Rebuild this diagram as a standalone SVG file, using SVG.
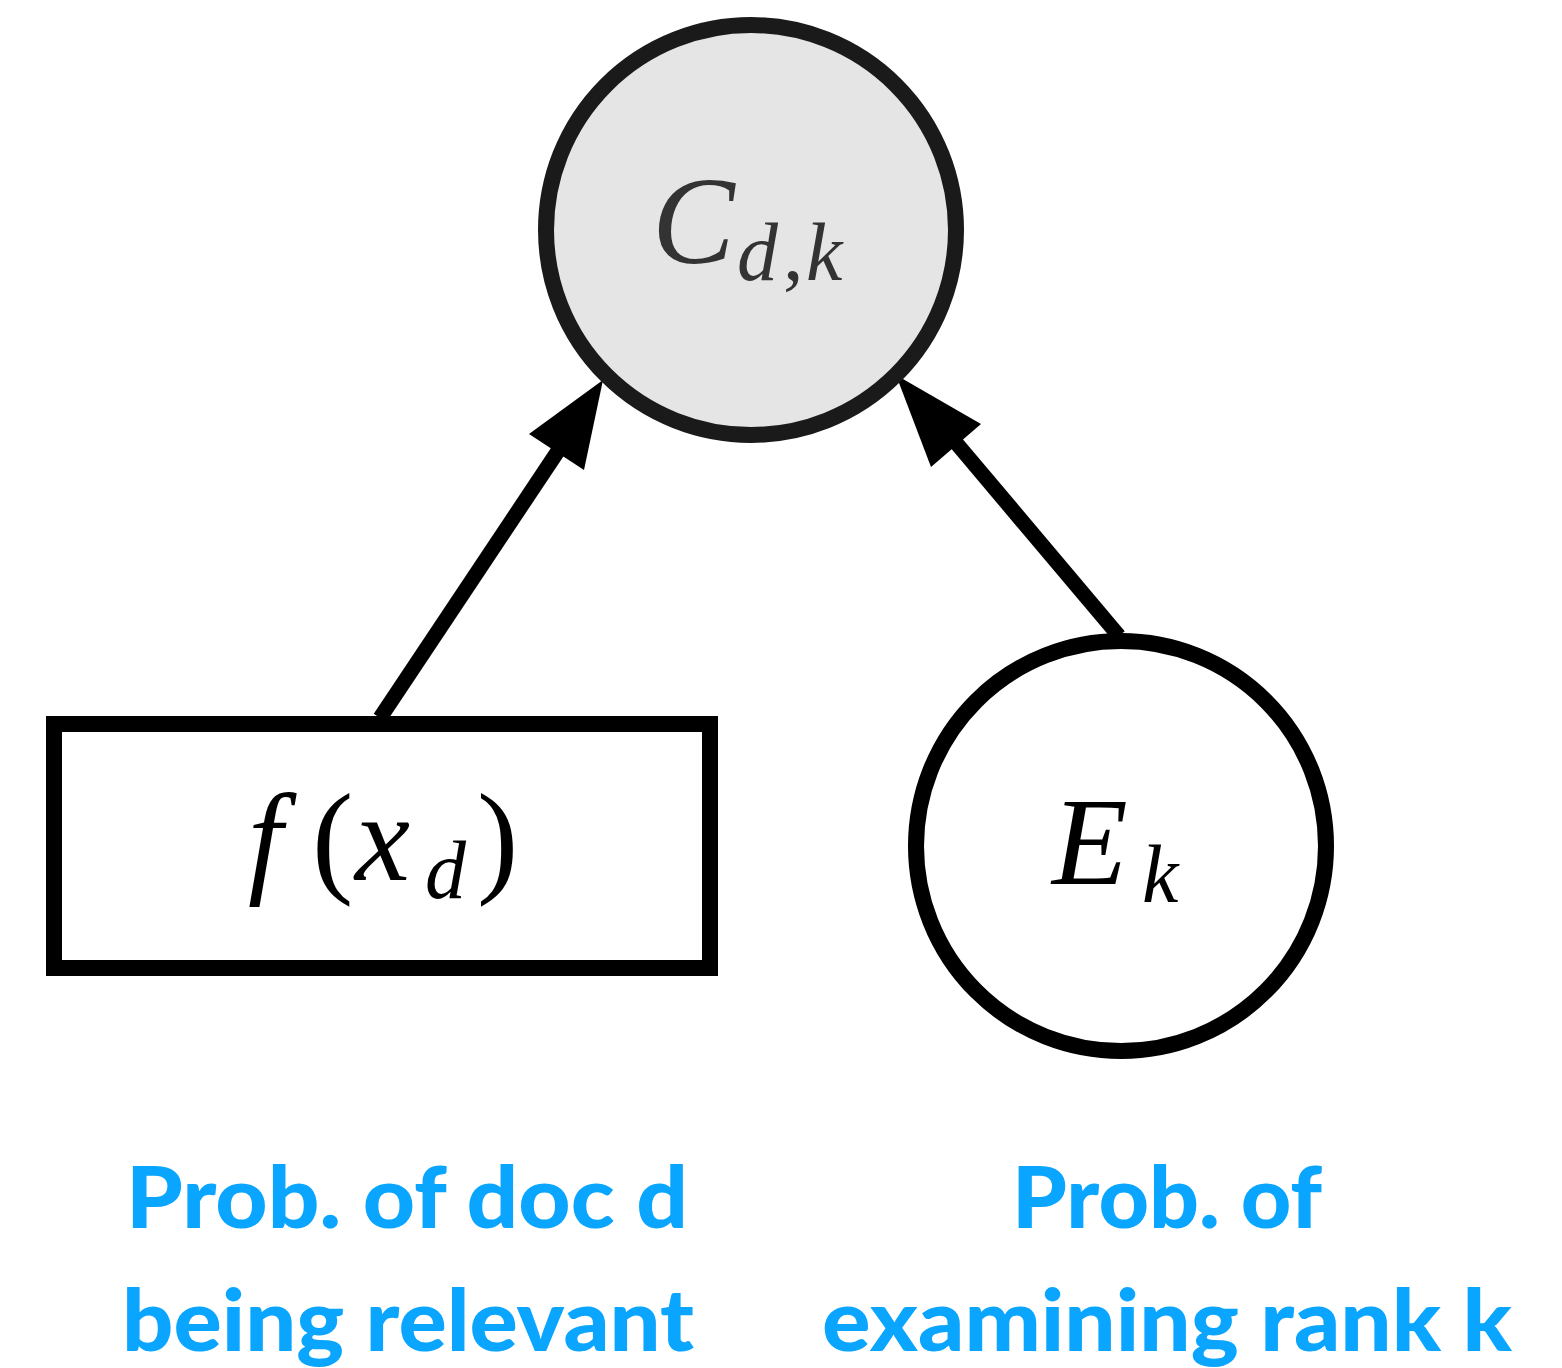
<svg xmlns="http://www.w3.org/2000/svg" width="1562" height="1368" viewBox="0 0 1562 1368">
<style>
.math{font-family:"Liberation Serif","DejaVu Serif",serif;font-style:italic}
.lbl{font-family:Lato,"Noto Sans",sans-serif;font-weight:900;font-size:86px;fill:#0aa5ff;text-anchor:middle}
.edge{stroke:#000;stroke-width:15;fill:none}
</style>
<rect width="1562" height="1368" fill="#fff"/>
<g id="connectors">
<line class="edge" x1="380" y1="718" x2="560" y2="448"/>
<polygon points="603,380 529,434 584,470" fill="#000"/>
<line class="edge" x1="1119" y1="636" x2="952" y2="438"/>
<polygon points="896,375 981,424 931,467" fill="#000"/>
</g>
<g id="node-C">
<circle cx="751" cy="230" r="205" fill="#e5e5e5" stroke="#1a1a1a" stroke-width="16"/>
<text class="math" fill="#333"><tspan x="652" y="263" font-size="124">C</tspan><tspan x="737" y="280" font-size="82">d</tspan><tspan x="783" y="280" font-size="82" font-style="normal">,</tspan><tspan x="806" y="280" font-size="82">k</tspan></text>
</g>
<g id="node-f">
<rect x="54" y="724" width="656" height="244" fill="#fff" stroke="#000" stroke-width="16"/>
<text class="math" fill="#000"><tspan x="248" y="880" font-size="124">f</tspan><tspan x="312" y="880" font-size="124" font-style="normal">(</tspan><tspan x="355" y="880" font-size="124">x</tspan><tspan x="425" y="898" font-size="82">d</tspan><tspan x="477" y="880" font-size="124" font-style="normal">)</tspan></text>
</g>
<g id="node-E">
<circle cx="1121" cy="846" r="205" fill="#fff" stroke="#000" stroke-width="16"/>
<text class="math" fill="#000"><tspan x="1052" y="884" font-size="124">E</tspan><tspan x="1142" y="902" font-size="82">k</tspan></text>
</g>
<g id="labels">
<text class="lbl" x="407" y="1228" textLength="562" lengthAdjust="spacingAndGlyphs">Prob. of doc d</text>
<text class="lbl" x="408" y="1351" textLength="572" lengthAdjust="spacingAndGlyphs">being relevant</text>
<text class="lbl" x="1167" y="1228" textLength="310" lengthAdjust="spacingAndGlyphs">Prob. of</text>
<text class="lbl" x="1167" y="1351" textLength="690" lengthAdjust="spacingAndGlyphs">examining rank k</text>
</g>
</svg>
